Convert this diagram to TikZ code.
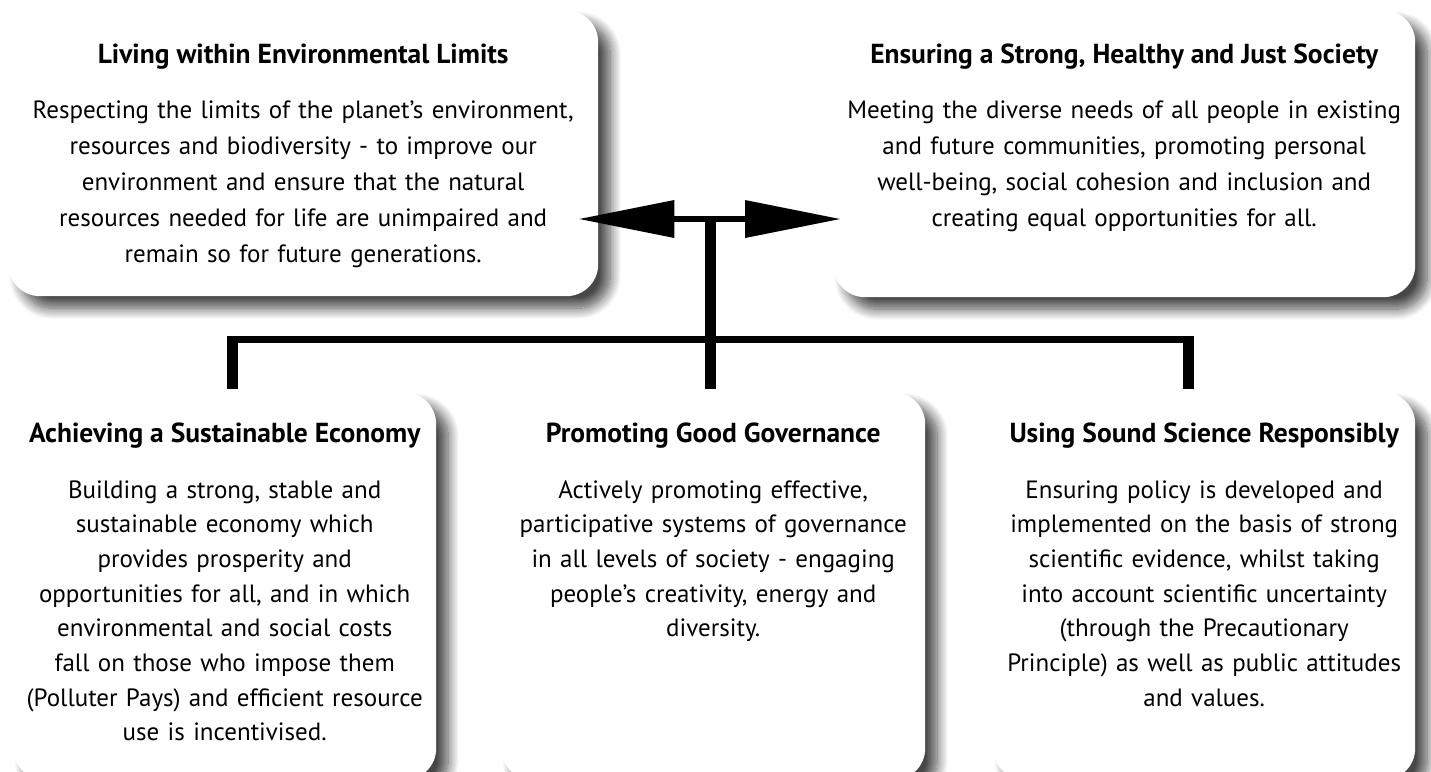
\documentclass[tikz,border=0pt]{standalone}
\usepackage{fontspec}
\setmainfont{PT Sans}
\usetikzlibrary{shadows.blur,arrows.meta,calc}
\begin{document}
\begin{tikzpicture}[x=1pt,y=-1pt,
  box/.style={fill=white, draw=none, rounded corners=32pt, inner sep=0pt, anchor=north west,
    blur shadow={shadow xshift=12pt, shadow yshift=-12pt, shadow blur radius=11pt, shadow opacity=72, shadow blur steps=14}},
  ttl/.style={font=\fontsize{27.5}{30}\selectfont\bfseries, anchor=base, inner sep=0pt},
  bodytext/.style={font=\fontsize{25}{36}\selectfont, text width=600pt, align=center, anchor=base, inner sep=0pt},
  bodylow/.style={bodytext, font=\fontsize{25}{34.7}\selectfont},
  barline/.style={line width=7pt},
  stubline/.style={line width=11pt},
  headarrow/.style={line width=6.5pt, -{Triangle[length=95pt,width=38pt,line width=0pt]}},
]
\useasboundingbox (0,0) rectangle (1431,771);
% boxes
\node[box, minimum width=590pt, minimum height=286pt] (env) at (8,10) {};
\node[box, minimum width=582pt, minimum height=287pt] (soc) at (833,10) {};
\node[box, minimum width=423pt, minimum height=388pt] (eco) at (13,392) {};
\node[box, minimum width=424pt, minimum height=388pt] (gov) at (501,392) {};
\node[box, minimum width=422pt, minimum height=388pt] (sci) at (993,392) {};
% connectors
\coordinate (hub) at (710,219);
\coordinate (L) at (232,336);
\coordinate (M) at (710,336);
\coordinate (R) at (1188,336);
\coordinate (tipL) at ([xshift=-19pt]env.east);
\coordinate (tipR) at ([xshift=7pt]soc.west);
\coordinate (ecoTop) at ([yshift=3pt]eco.north);
\coordinate (govTop) at ([yshift=3pt]gov.north);
\coordinate (sciTop) at ([yshift=3pt]sci.north);
\draw[headarrow] (hub) -- (tipL |- hub);
\draw[headarrow] (hub) -- (tipR |- hub);
\draw[stubline] ([yshift=3pt]hub) -- (hub |- govTop);
\draw[barline] ($(L)+(-5.5,3.5)$) -- ($(R)+(5.5,3.5)$);
\draw[stubline] (L) -- (L |- ecoTop);
\draw[stubline] (R) -- (R |- sciTop);
% texts
\node[ttl] (envT) at ([yshift=-53pt]env.north) {Living within Environmental Limits};
\node[bodytext] (envB) at ([yshift=-108pt]env.north) {Respecting the limits of the planet’s environment,\\ resources and biodiversity - to improve our\\ environment and ensure that the natural\\ resources needed for life are unimpaired and\\ remain so for future generations.};
\node[ttl] (socT) at ([yshift=-53pt]soc.north) {Ensuring a Strong, Healthy and Just Society};
\node[bodytext] (socB) at ([yshift=-108pt]soc.north) {Meeting the diverse needs of all people in existing\\ and future communities, promoting personal\\ well-being, social cohesion and inclusion and\\ creating equal opportunities for all.};
\node[ttl] (ecoT) at ([yshift=-50pt]eco.north) {Achieving a Sustainable Economy};
\node[bodylow] (ecoB) at ([yshift=-106pt]eco.north) {Building a strong, stable and\\ sustainable economy which\\ provides prosperity and\\ opportunities for all, and in which\\ environmental and social costs\\ fall on those who impose them\\ (Polluter Pays) and efficient resource\\ use is incentivised.};
\node[ttl] (govT) at ([yshift=-50pt]gov.north) {Promoting Good Governance};
\node[bodylow] (govB) at ([yshift=-106pt]gov.north) {Actively promoting effective,\\ participative systems of governance\\ in all levels of society - engaging\\ people’s creativity, energy and\\ diversity.};
\node[ttl] (sciT) at ([yshift=-50pt]sci.north) {Using Sound Science Responsibly};
\node[bodylow] (sciB) at ([yshift=-106pt]sci.north) {Ensuring policy is developed and\\ implemented on the basis of strong\\ scientific evidence, whilst taking\\ into account scientific uncertainty\\ (through the Precautionary\\ Principle) as well as public attitudes\\ and values.};
\end{tikzpicture}
\end{document}
